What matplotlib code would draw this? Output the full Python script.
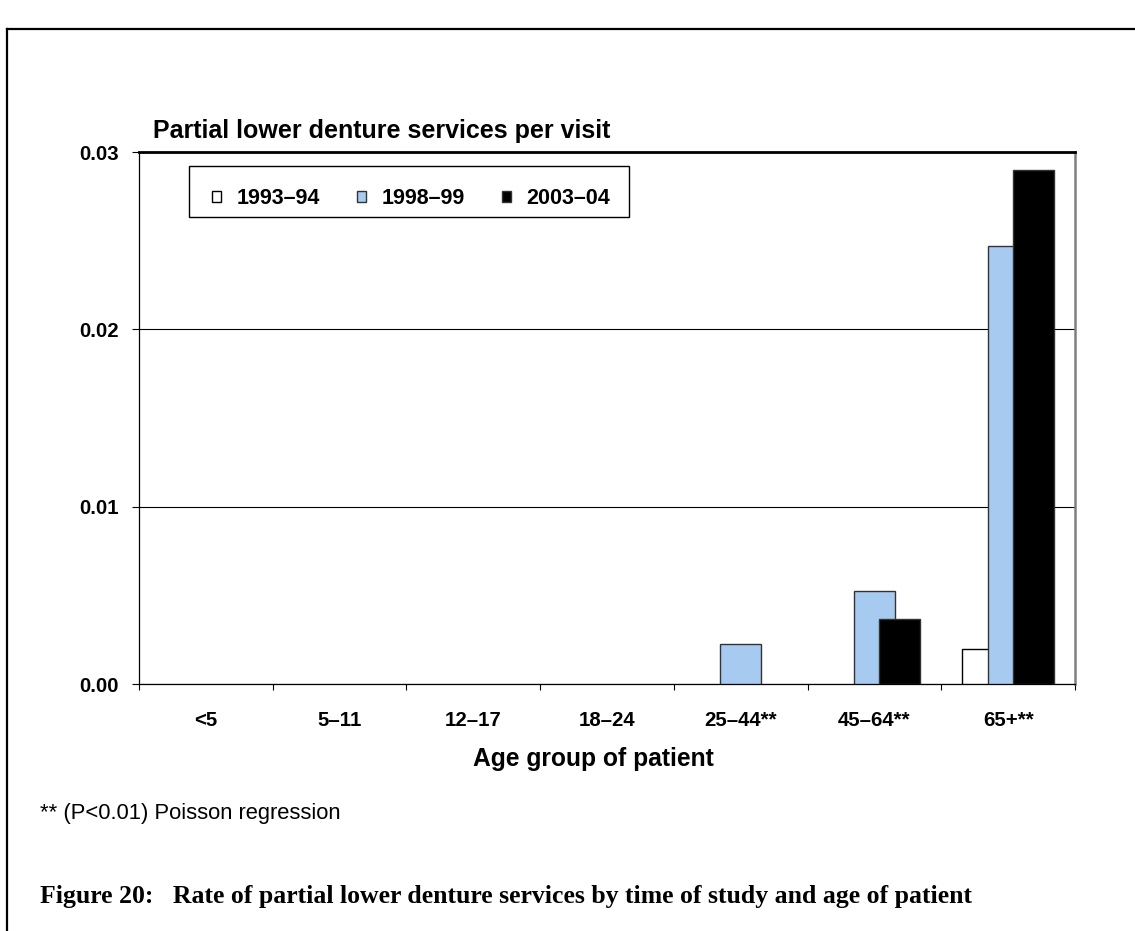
import matplotlib
matplotlib.use("Agg")
import matplotlib.pyplot as plt
from matplotlib.lines import Line2D
from matplotlib.patches import Rectangle
import numpy as np

# ---- data ----
categories = ["<5", "5\u201311", "12\u201317", "18\u201324", "25\u201344", "45\u201364", "65+"]
significant = [False, False, False, False, True, True, True]
series_names = ["1993\u201394", "1998\u201399", "2003\u201304"]
v1993 = [0.0, 0.0, 0.0, 0.0, 0.0, 0.0, 0.0020]
v1998 = [0.0, 0.0, 0.0, 0.0, 0.00228, 0.00525, 0.0247]
v2003 = [0.0, 0.0, 0.0, 0.0, 0.0, 0.00367, 0.0290]
yticks = [0.00, 0.01, 0.02, 0.03]

title = "Partial lower denture services per visit"
xlabel = "Age group of patient"
footnote = "** (P<0.01) Poisson regression"
caption = "Figure 20:   Rate of partial lower denture services by time of study and age of patient"

colors = ["#FFFFFF", "#A6CAF0", "#000000"]
edges = ["#000000", "#333333", "#333333"]

W, H = 1135, 931
fig = plt.figure(figsize=(W / 100, H / 100), dpi=100)
ax = fig.add_axes([139 / W, 1 - 684 / H, (1075 - 139) / W, (684 - 152) / H])
sans = "Liberation Sans"
tick_fs = 14.7

x = np.arange(len(categories))
bw = 0.307
step = 0.19
containers = []
for i, (vals, c, e) in enumerate(zip([v1993, v1998, v2003], colors, edges)):
    b = ax.bar(x + (i - 1) * step, vals, width=bw, color=c, edgecolor=e,
               linewidth=1.0, label=series_names[i], zorder=3 + i)
    containers.append((b, vals))

ax.set_xlim(-0.5, len(categories) - 0.5)
ax.set_ylim(0, 0.03)
ax.set_yticks(yticks)
ax.set_yticklabels([f"{v:.2f}" for v in yticks], fontfamily=sans,
                   fontweight="bold", fontsize=tick_fs)
ax.yaxis.grid(True, color="black", linewidth=0.8, zorder=0)
ax.set_axisbelow(True)
ax.tick_params(axis="y", direction="out", length=5, width=0.8, pad=9.4, color="black")

xlabels = [c + ("**" if s else "") for c, s in zip(categories, significant)]
ax.set_xticks(x)
ax.set_xticklabels(xlabels, fontfamily=sans, fontweight="bold", fontsize=tick_fs)
ax.set_xticks(np.arange(len(categories) + 1) - 0.5, minor=True)
ax.tick_params(axis="x", which="major", length=0, pad=19.5)
ax.tick_params(axis="x", which="minor", direction="out", length=4.3, width=0.8, color="black")

for side in ["left", "bottom"]:
    ax.spines[side].set_color("black")
    ax.spines[side].set_linewidth(0.9)
ax.spines["top"].set_color("black")
ax.spines["top"].set_linewidth(2.0)
ax.spines["right"].set_color("#808080")
ax.spines["right"].set_linewidth(1.8)

# texts positioned by baseline (pixel targets from the reference)
t_title = fig.text(153 / W, 1 - 138 / H, title, ha="left", va="baseline",
                   fontfamily=sans, fontweight="bold", fontsize=18)
t_xlabel = fig.text(593 / W, 1 - 766 / H, xlabel, ha="center", va="baseline",
                    fontfamily=sans, fontweight="bold", fontsize=17.7)
t_foot = fig.text(40 / W, 1 - 819 / H, footnote, ha="left", va="baseline",
                  fontfamily=sans, fontsize=15.9)
t_cap = fig.text(40 / W, 1 - 903 / H, caption, ha="left", va="baseline",
                 fontfamily="Liberation Serif", fontweight="bold", fontsize=17)

# legend: frame drawn as a box, entries as a frameless legend inside it
ax.add_patch(Rectangle((189 / W, 1 - 217 / H), 440 / W, 51 / H, transform=fig.transFigure,
                       facecolor="white", edgecolor="black", linewidth=1.0,
                       zorder=9, clip_on=False))
leg = ax.legend(loc="center left", bbox_to_anchor=(212 / W, 1 - 199 / H),
                bbox_transform=fig.transFigure, ncol=3, frameon=False,
                prop={"family": sans, "weight": "bold", "size": 15.5},
                handlelength=0.42, handleheight=0.42, handletextpad=0.72,
                columnspacing=1.72, borderpad=0, borderaxespad=0)
leg.set_zorder(10)
for h in leg.legend_handles:
    h.set_linewidth(1.0)

# hide outlines of zero-height bars (after the legend copied the styles)
for b, vals in containers:
    for p, v in zip(b.patches, vals):
        if v == 0:
            p.set_linewidth(0)

# fit text widths to the reference
targets = [(t_title, 456), (t_xlabel, 240), (t_foot, 303), (t_cap, 932)]
for _ in range(2):
    fig.canvas.draw()
    r = fig.canvas.get_renderer()
    for t, w in targets:
        cur = t.get_window_extent(r).width
        t.set_fontsize(t.get_fontsize() * w / cur)

# page frame (top and left lines)
fig.add_artist(Line2D([7 / W, 1.0], [1 - 29 / H, 1 - 29 / H], transform=fig.transFigure,
                      color="black", linewidth=1.6))
fig.add_artist(Line2D([7 / W, 7 / W], [1 - 29 / H, 0.0], transform=fig.transFigure,
                      color="black", linewidth=1.6))

fig.savefig("out.png", dpi=100)
